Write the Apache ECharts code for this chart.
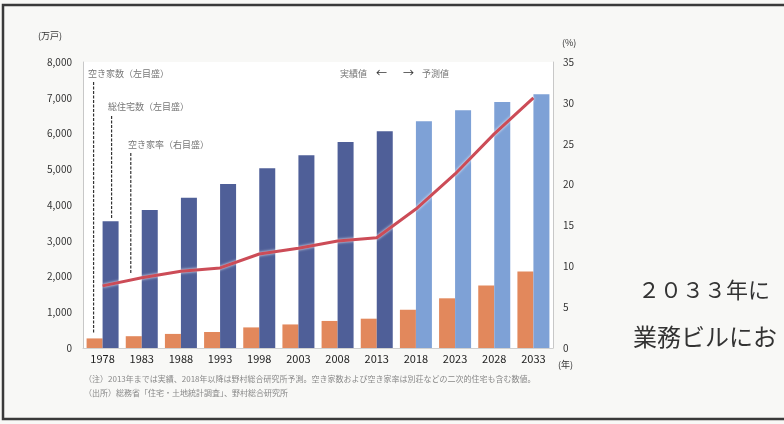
<!DOCTYPE html>
<html><head><meta charset="utf-8">
<script src="https://cdn.jsdelivr.net/npm/echarts@6/dist/echarts.min.js"></script>
<style>html,body{margin:0;padding:0;background:#f8f8f6;}#c{width:784px;height:424px;}</style>
</head><body><div id="c"></div>
<script>
var years = ['1978','1983','1988','1993','1998','2003','2008','2013','2018','2023','2028','2033'];
var vacantHouses = [268, 330, 394, 448, 576, 659, 757, 820, 1070, 1390, 1750, 2140];
var totalHouses = [3545, 3861, 4201, 4588, 5025, 5389, 5759, 6063, 6340, 6650, 6880, 7100];
var vacancyRate = [7.6, 8.6, 9.4, 9.8, 11.5, 12.2, 13.1, 13.5, 17.0, 21.3, 26.2, 30.6];
var forecastFrom = '2018';
var leftTicks = ['0','1,000','2,000','3,000','4,000','5,000','6,000','7,000','8,000'];
var rightTicks = ['0','5','10','15','20','25','30','35'];

var FONT = '"Noto Sans CJK JP", "Noto Sans", sans-serif';
var darkBlue = '#4f5f98', lightBlue = '#7ea1d6', orange = '#e2885c', red = '#cc4c57';
var fIdx = years.indexOf(forecastFrom);

var chart = echarts.init(document.getElementById('c'));
var option = {
  backgroundColor: '#f8f8f6',
  animation: false,
  textStyle: {fontFamily: FONT},
  grid: {left: 83, right: 231, top: 62, bottom: 76, show: true, backgroundColor: '#ffffff', borderWidth: 0},
  xAxis: {
    type: 'category', data: years,
    axisLine: {show: true, lineStyle: {color: '#d0d0d0'}},
    axisTick: {show: false},
    axisLabel: {color: '#222', fontSize: 11, margin: 5, fontFamily: FONT}
  },
  yAxis: [{
    type: 'value', min: 0, max: 8000, interval: 1000,
    axisLine: {show: true, lineStyle: {color: '#c8c8c8'}},
    axisTick: {show: false}, splitLine: {show: false},
    axisLabel: {color: '#333', fontSize: 10, margin: 11,
      formatter: function (v) { return leftTicks[Math.round(v / 1000)]; }}
  }, {
    type: 'value', min: 0, max: 35, interval: 5,
    axisLine: {show: true, lineStyle: {color: '#c8c8c8'}},
    axisTick: {show: false}, splitLine: {show: false},
    axisLabel: {color: '#333', fontSize: 10, margin: 10,
      formatter: function (v) { return rightTicks[Math.round(v / 5)]; }}
  }],
  series: [{
    name: '空き家数', type: 'bar', yAxisIndex: 0, barWidth: 16, barGap: '0%',
    data: vacantHouses, itemStyle: {color: orange}
  }, {
    name: '総住宅数', type: 'bar', yAxisIndex: 0, barWidth: 16, barGap: '0%',
    data: totalHouses.map(function (v, i) {
      return {value: v, itemStyle: {color: i >= fIdx ? lightBlue : darkBlue}};
    })
  }, {
    name: '空き家率', type: 'line', yAxisIndex: 1, data: vacancyRate,
    symbol: 'none', z: 5,
    lineStyle: {color: red, width: 3, shadowColor: 'rgba(255,255,255,0.9)', shadowBlur: 3}
  }]
};
chart.setOption(option);

// annotations (leader lines computed from axes)
var c0 = chart.convertToPixel({xAxisIndex: 0}, years[0]);
var yOrange = chart.convertToPixel({yAxisIndex: 0}, vacantHouses[0]);
var yBlue = chart.convertToPixel({yAxisIndex: 0}, totalHouses[0]);
var yLine = chart.convertToPixel({yAxisIndex: 1}, vacancyRate[1]);
var c1 = chart.convertToPixel({xAxisIndex: 0}, years[1]);
var xLineLead = c0 + (c1 - c0) * 0.72;
var xOr = c0 - 9, xBl = c0 + 9;
var leadStyle = {stroke: '#333', lineWidth: 1.2, lineDash: [3, 1.5]};
var labStyle = {fill: '#777', fontSize: 9, fontFamily: FONT};
var g = [
  {type: 'rect', shape: {x: 3, y: 5, width: 800, height: 414}, style: {fill: 'none', stroke: '#3a3a3a', lineWidth: 2.5}, silent: true},
  {type: 'text', left: 38, top: 31, style: {text: '(万戸)', fill: '#333', fontSize: 9, fontFamily: FONT}},
  {type: 'text', left: 562, top: 38, style: {text: '(%)', fill: '#333', fontSize: 9, fontFamily: FONT}},
  {type: 'text', left: 558, top: 360, style: {text: '(年)', fill: '#333', fontSize: 9, fontFamily: FONT}},
  {type: 'text', left: 88, top: 69, style: Object.assign({text: '空き家数（左目盛）'}, labStyle)},
  {type: 'text', left: 108, top: 102, style: Object.assign({text: '総住宅数（左目盛）'}, labStyle)},
  {type: 'text', left: 128, top: 140, style: Object.assign({text: '空き家率（右目盛）'}, labStyle)},
  {type: 'line', shape: {x1: xOr, y1: 82, x2: xOr, y2: yOrange - 6}, style: leadStyle},
  {type: 'line', shape: {x1: xBl, y1: 116, x2: xBl, y2: yBlue - 3}, style: leadStyle},
  {type: 'line', shape: {x1: xLineLead, y1: 153, x2: xLineLead, y2: yLine - 4}, style: leadStyle},
  {type: 'text', left: 340, top: 69, style: {text: '実績値', fill: '#777', fontSize: 9, fontFamily: FONT}},
  {type: 'text', left: 376, top: 67, style: {text: '←', fill: '#333', fontSize: 11, fontFamily: FONT}},
  {type: 'text', left: 403, top: 67, style: {text: '→', fill: '#333', fontSize: 11, fontFamily: FONT}},
  {type: 'text', left: 422, top: 69, style: {text: '予測値', fill: '#777', fontSize: 9, fontFamily: FONT}},
  {type: 'text', left: 84, top: 375, style: {text: '（注）2013年までは実績、2018年以降は野村総合研究所予測。空き家数および空き家率は別荘などの二次的住宅も含む数値。', fill: '#888', fontSize: 8, fontFamily: FONT}},
  {type: 'text', left: 84, top: 389, style: {text: '（出所）総務省「住宅・土地統計調査」、野村総合研究所', fill: '#888', fontSize: 8, fontFamily: FONT}},
  {type: 'text', left: 638, top: 279, style: {text: '２０３３年に', fill: '#333', fontSize: 22, fontFamily: FONT}},
  {type: 'text', left: 633, top: 325, style: {text: '業務ビルにお', fill: '#333', fontSize: 24, fontFamily: FONT}}
];
chart.setOption({graphic: g});
</script></body></html>
